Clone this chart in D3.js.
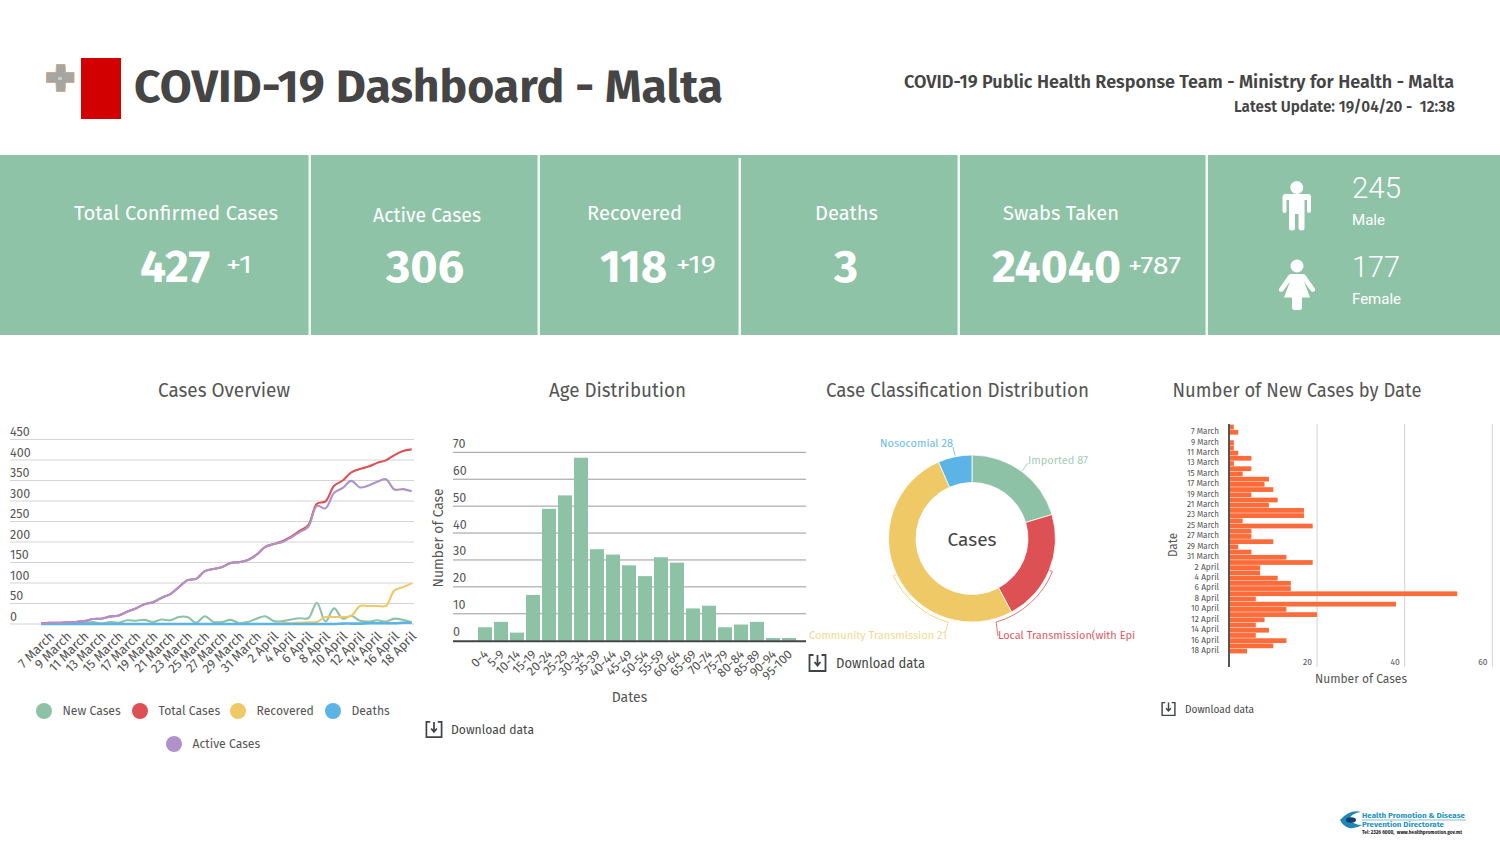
<!DOCTYPE html>
<html>
<head>
<meta charset="utf-8">
<title>COVID-19 Dashboard - Malta</title>
<script src="https://d3js.org/d3.v7.min.js"></script>
<style>
  html, body { margin: 0; padding: 0; background: #fff; overflow: hidden; }
  text { font-family: "Fira Sans", "Noto Sans", "Open Sans", sans-serif; white-space: pre; }
  .domain { display: none; }
  .tick line { display: none; }
</style>
</head>
<body>
<div id="dash"></div>
<script>
const dates = ["6 March", "7 March", "8 March", "9 March", "10 March", "11 March", "12 March", "13 March",
  "14 March", "15 March", "16 March", "17 March", "18 March", "19 March", "20 March", "21 March", "22 March",
  "23 March", "24 March", "25 March", "26 March", "27 March", "28 March", "29 March", "30 March", "31 March",
  "1 April", "2 April", "3 April", "4 April", "5 April", "6 April", "7 April", "8 April", "9 April", "10 April",
  "11 April", "12 April", "13 April", "14 April", "15 April", "16 April", "17 April", "18 April"];
const dateTicks = ["7 March", "9 March", "11 March", "13 March", "15 March", "17 March", "19 March", "21 March",
  "23 March", "25 March", "27 March", "29 March", "31 March", "2 April", "4 April", "6 April", "8 April",
  "10 April", "12 April", "14 April", "16 April", "18 April"];

const newCases = [1, 2, 0, 1, 1, 2, 5, 1, 5, 3, 9, 8, 10, 5, 11, 9, 17, 17, 3, 19, 5, 5, 10, 2, 5, 13, 19, 7, 7,
  11, 14, 14, 52, 6, 38, 13, 20, 8, 6, 9, 6, 13, 10, 4];
const totalCases = [1, 3, 3, 4, 5, 7, 12, 13, 18, 21, 30, 38, 48, 53, 64, 73, 90, 107, 110, 129, 134, 139, 149,
  151, 156, 169, 188, 195, 202, 213, 227, 241, 293, 299, 337, 350, 370, 378, 384, 393, 399, 412, 422, 426];
const recovered = [0, 0, 0, 0, 0, 0, 0, 0, 0, 0, 0, 0, 0, 0, 0, 0, 0, 0, 0, 0, 0, 0, 0, 0, 0, 0, 0, 0, 2, 2, 3, 4,
  5, 17, 17, 17, 20, 44, 44, 44, 44, 82, 90, 99];
const deaths = [0, 0, 0, 0, 0, 0, 0, 0, 0, 0, 0, 0, 0, 0, 0, 0, 0, 0, 0, 0, 0, 0, 0, 0, 0, 0, 0, 0, 0, 0, 0, 0, 0,
  0, 0, 1, 1, 1, 2, 2, 2, 2, 3, 3];
const activeCases = [1, 3, 3, 4, 5, 7, 12, 13, 18, 21, 30, 38, 48, 53, 64, 73, 90, 107, 110, 129, 134, 139, 149,
  151, 156, 169, 188, 195, 200, 211, 224, 237, 288, 282, 320, 332, 349, 333, 338, 347, 353, 328, 329, 324];
const overviewTicks = [0, 50, 100, 150, 200, 250, 300, 350, 400, 450];

const ageGroups = ["0-4", "5-9", "10-14", "15-19", "20-24", "25-29", "30-34", "35-39", "40-44", "45-49", "50-54",
  "55-59", "60-64", "65-69", "70-74", "75-79", "80-84", "85-89", "90-94", "95-100"];
const ageCounts = [5, 7, 3, 17, 49, 54, 68, 34, 32, 28, 24, 31, 29, 12, 13, 5, 6, 7, 1, 1];
const ageTicks = [0, 10, 20, 30, 40, 50, 60, 70];

const classNames = ["Imported", "Local Transmission", "Community Transmission", "Nosocomial"];
const classCounts = [87, 93, 219, 28];

const newCaseTicks = [20, 40, 60];

const GREEN = "#8dc2a7", RED = "#dd5155", YELLOW = "#efc966", BLUE = "#5cb3e6", PURPLE = "#ae92c9", ORANGE = "#fb6c3a";
const TEXT = "#555", DARK = "#444";

let svg = d3.select("#dash").append("svg")
  .attr("width", 1500)
  .attr("height", 852);

// plain text helper, width squeezes the run to the measured length in the picture
function label(x, y, str, size, opts) {
  opts = opts || {};
  let t = svg.append("text")
    .attr("x", x)
    .attr("y", y)
    .attr("font-size", size)
    .attr("font-weight", opts.weight || 400)
    .attr("fill", opts.fill || TEXT)
    .attr("text-anchor", opts.anchor || "start")
    .text(str);
  if (opts.family) t.style("font-family", opts.family);
  if (opts.width) t.attr("textLength", opts.width).attr("lengthAdjust", "spacingAndGlyphs");
  return t;
}

// ---- header
svg.append("path")
  .attr("d", "M56.500 64.500h8.500l.5 8h8.500v10h-8.500l-.5 9h-8.500l-.5 -9h-9.500v-10h9.500z")
  .attr("fill", "#a6a6a1")
  .attr("stroke", "#c8ab90")
  .attr("stroke-width", 1);
svg.append("rect").attr("x", 58).attr("y", 77).attr("width", 4).attr("height", 3).attr("fill", "#c9cbc9");
svg.append("rect").attr("x", 81).attr("y", 58).attr("width", 40).attr("height", 61).attr("fill", "#d20000");

label(134, 102, "COVID-19 Dashboard - Malta", 46, {weight: 700, fill: "#454545", width: 589});
label(904, 88, "COVID-19 Public Health Response Team - Ministry for Health - Malta", 18, {weight: 600, fill: "#454545", width: 550});
label(1234, 112, "Latest Update: 19/04/20 -  12:38", 15.5, {weight: 600, fill: "#454545", width: 221});

// ---- stats band
svg.append("rect").attr("x", 0).attr("y", 155).attr("width", 1500).attr("height", 180).attr("fill", "#8fc3a8");
[[310, 155], [539, 155], [740, 158], [959, 155], [1207, 155]].forEach(d => {
  svg.append("rect").attr("x", d[0] - 1.5).attr("y", d[1]).attr("width", 2.5).attr("height", 335 - d[1]).attr("fill", "#f4f8f5");
});

const W = {fill: "#fff"};
label(74, 220, "Total Confirmed Cases", 20, {...W, width: 204});
label(373, 222, "Active Cases", 20, {...W, width: 108});
label(587, 220, "Recovered", 20, {...W, width: 95});
label(815, 220, "Deaths", 20, {...W, width: 63});
label(1003, 220, "Swabs Taken", 20, {...W, width: 116});

const BIG = {fill: "#fff", weight: 700};
label(140, 281.5, "427", 46, {...BIG, width: 70});
label(386, 281.5, "306", 46, {...BIG, width: 78});
label(600, 281.5, "118", 46, {...BIG, width: 67});
label(834, 281.5, "3", 46, {...BIG, width: 24});
label(992, 281.5, "24040", 46, {...BIG, width: 129});
label(226, 273, "+1", 24, {...W, width: 26});
label(676, 273, "+19", 24, {...W, width: 40});
label(1128, 274, "+787", 24, {...W, width: 53});

const ROBOTO = "Roboto, sans-serif";
label(1352, 198, "245", 30, {...W, family: ROBOTO, weight: 300, width: 49});
label(1352, 225, "Male", 15, {...W, family: ROBOTO, weight: 400, width: 33});
label(1352, 277, "177", 30, {...W, family: ROBOTO, weight: 300, width: 48});
label(1352, 304, "Female", 15, {...W, family: ROBOTO, weight: 400, width: 49});

// person icons
svg.append("circle").attr("cx", 1296.75).attr("cy", 187.5).attr("r", 6.5).attr("fill", "#fff");
svg.append("path").attr("fill", "#fff")
  .attr("d", "M1286 194H1308q3 0 3 3v14q0 2 -2 2t-2 -2v-11h-2.500v28q0 2.500 -3 2.500t-3 -2.500v-14h-3.500v14q0 2.500 -3 2.500t-3 -2.500v-28h-2.500v11q0 2 -2 2t-2 -2v-14q0 -3 3.500 -3z");
svg.append("circle").attr("cx", 1297).attr("cy", 266).attr("r", 6.5).attr("fill", "#fff");
svg.append("path").attr("fill", "#fff")
  .attr("d", "M1291 274h12q2 0 3 2l8.500 12q1.500 2.500 -.5 3.500t-3.500 -1l-6.500 -9l6 16h-8v10q0 2.500 -3 2.500h-4q-3 0 -3 -2.500v-10h-8l6 -16l-6.500 9q-1.500 2 -3.500 1t-.5 -3.500l8.500 -12q1 -2 3 -2z");

// ---- chart titles
label(224, 397, "Cases Overview", 19.5, {anchor: "middle", width: 132});
label(617.5, 397, "Age Distribution", 19.5, {anchor: "middle", width: 137});
label(957.5, 397, "Case Classification Distribution", 19.5, {anchor: "middle", width: 263});
label(1297, 397, "Number of New Cases by Date", 19.5, {anchor: "middle", width: 249});

// ---- cases overview
let xOver = d3.scalePoint().domain(dates).range([41, 411.7]);
let yOver = d3.scaleLinear().domain([0, 450]).range([624, 439.5]);

const over = svg.append("g");
over.append("g").selectAll("line")
  .data(overviewTicks)
  .enter()
  .append("line")
  .attr("x1", 10)
  .attr("x2", 414)
  .attr("y1", d => yOver(d))
  .attr("y2", d => yOver(d))
  .attr("stroke", "#d4d4d4")
  .attr("stroke-width", 1);
over.append("g").selectAll("text")
  .data(overviewTicks)
  .enter()
  .append("text")
  .attr("x", 10)
  .attr("y", d => yOver(d) - 3.5)
  .attr("font-size", 12.5)
  .attr("fill", TEXT)
  .text(d => d);

const overSeries = [
  {name: "New Cases", values: newCases, color: GREEN},
  {name: "Total Cases", values: totalCases, color: RED},
  {name: "Recovered", values: recovered, color: YELLOW},
  {name: "Deaths", values: deaths, color: BLUE},
  {name: "Active Cases", values: activeCases, color: PURPLE}
];
let overLine = d3.line()
  .x((d, i) => xOver(dates[i]))
  .y(d => yOver(d))
  .curve(d3.curveCatmullRom.alpha(0.5));
over.append("g").selectAll("path")
  .data(overSeries)
  .enter()
  .append("path")
  .attr("d", d => overLine(d.values))
  .attr("fill", "none")
  .attr("stroke", d => d.color)
  .attr("stroke-width", d => d.name === "Deaths" ? 2.6 : 2.1);

function rotatedTicks(axisGroup, dx, dy, size) {
  axisGroup.selectAll("text")
    .attr("font-size", size)
    .attr("fill", TEXT)
    .attr("text-anchor", "end")
    .attr("dy", 0)
    .attr("y", 0)
    .attr("transform", `translate(${dx},${dy}) rotate(-45)`);
  axisGroup.attr("font-family", null);
}

let overAxis = over.append("g")
  .attr("transform", "translate(0,628)")
  .call(d3.axisBottom(xOver).tickValues(dateTicks).tickSize(0));
rotatedTicks(overAxis, 5, 9, 13);

// legend
const legendItems = [
  {name: "New Cases", color: GREEN, cx: 44, cy: 711},
  {name: "Total Cases", color: RED, cx: 140, cy: 711},
  {name: "Recovered", color: YELLOW, cx: 238, cy: 711},
  {name: "Deaths", color: BLUE, cx: 333, cy: 711},
  {name: "Active Cases", color: PURPLE, cx: 174, cy: 744}
];
legendItems.forEach(d => {
  svg.append("circle").attr("cx", d.cx).attr("cy", d.cy).attr("r", 8).attr("fill", d.color);
  label(d.cx + 18.5, d.cy + 4.3, d.name, 12.2);
});

// ---- age distribution
let xAge = d3.scaleBand().domain(ageGroups).range([477, 797]).paddingInner(0.125).paddingOuter(0.0625);
let yAge = d3.scaleLinear().domain([0, 70]).range([640.7, 452.3]);

const age = svg.append("g");
age.append("g").selectAll("line")
  .data(ageTicks.slice(1))
  .enter()
  .append("line")
  .attr("x1", 453)
  .attr("x2", 806)
  .attr("y1", d => yAge(d))
  .attr("y2", d => yAge(d))
  .attr("stroke", "#9a9a9a")
  .attr("stroke-width", 1);
age.append("g").selectAll("text")
  .data(ageTicks)
  .enter()
  .append("text")
  .attr("x", 453)
  .attr("y", d => yAge(d) - 4.5)
  .attr("font-size", 12.5)
  .attr("fill", TEXT)
  .text(d => d);
age.append("g").selectAll("rect")
  .data(ageCounts)
  .enter()
  .append("rect")
  .attr("x", (d, i) => xAge(ageGroups[i]))
  .attr("y", d => yAge(d))
  .attr("width", xAge.bandwidth())
  .attr("height", d => yAge(0) - yAge(d))
  .attr("fill", GREEN);
age.append("line")
  .attr("x1", 453)
  .attr("x2", 806)
  .attr("y1", yAge(0) + 0.5)
  .attr("y2", yAge(0) + 0.5)
  .attr("stroke", DARK)
  .attr("stroke-width", 2);

let ageAxis = age.append("g")
  .attr("transform", "translate(0,646)")
  .call(d3.axisBottom(xAge).tickSize(0));
rotatedTicks(ageAxis, 4, 9, 12.5);

label(629.5, 702, "Dates", 14, {anchor: "middle"});
label(0, 0, "Number of Case", 14, {anchor: "middle", width: 99})
  .attr("transform", "translate(443,538) rotate(-90)");

// ---- case classification donut
const pieCx = 972, pieCy = 538.5;
const pieColors = [GREEN, RED, YELLOW, BLUE];
let pieData = d3.pie().sort(null)(classCounts);
let arc = d3.arc().innerRadius(56).outerRadius(83.5);

const donut = svg.append("g").attr("transform", `translate(${pieCx},${pieCy})`);
donut.selectAll("path")
  .data(pieData)
  .enter()
  .append("path")
  .attr("d", arc)
  .attr("fill", (d, i) => pieColors[i])
  .attr("stroke", "#fff")
  .attr("stroke-width", 0.8);

label(pieCx, 545.5, "Cases", 18, {anchor: "middle", fill: "#444", width: 49});

// leader brackets hugging the two big slices, angles in degrees from 12 o'clock
function bracket(a0, a1, ex, ey) {
  let rad = a => (a - 90) * Math.PI / 180;
  let p = d3.path();
  p.moveTo(pieCx + 84 * Math.cos(rad(a0)), pieCy + 84 * Math.sin(rad(a0)));
  p.lineTo(pieCx + 87 * Math.cos(rad(a0)), pieCy + 87 * Math.sin(rad(a0)));
  p.arc(pieCx, pieCy, 87, rad(a0), rad(a1), a1 < a0);
  p.lineTo(ex, ey);
  return p.toString();
}
svg.append("path").attr("d", bracket(112.4, 163.9, 998, 636)).attr("fill", "none").attr("stroke", RED).attr("stroke-width", 0.8);
svg.append("path").attr("d", bracket(244.6, 195.9, 946, 631)).attr("fill", "none").attr("stroke", YELLOW).attr("stroke-width", 0.8);
svg.append("path").attr("d", "M955 455.5L953 447").attr("fill", "none").attr("stroke", BLUE).attr("stroke-width", 0.8);
svg.append("path").attr("d", "M1022 471L1028 463").attr("fill", "none").attr("stroke", GREEN).attr("stroke-width", 0.8);

label(880, 447, "Nosocomial 28", 11, {fill: "#6cbbe6", width: 73});
label(1028, 464, "Imported 87", 11, {fill: "#a3cdb8", width: 60});
label(809, 639, "Community Transmission 21", 11, {fill: "#f3d98f", width: 138});
label(998, 639, "Local Transmission(with Epi", 11, {fill: "#dd5a63", width: 137});

// ---- new cases by date
let xNew = d3.scaleLinear().domain([0, 60]).range([1229.5, 1492.3]);
let yNew = d3.scaleBand().domain(dates).range([424.2, 653.9]).padding(0.09);

const bars = svg.append("g");
bars.append("g").selectAll("line")
  .data(newCaseTicks)
  .enter()
  .append("line")
  .attr("x1", d => xNew(d))
  .attr("x2", d => xNew(d))
  .attr("y1", 424)
  .attr("y2", 667)
  .attr("stroke", "#d2d2d2")
  .attr("stroke-width", 1);
bars.append("g").selectAll("text")
  .data(newCaseTicks)
  .enter()
  .append("text")
  .attr("x", d => xNew(d) - 9.5)
  .attr("y", 665)
  .attr("font-size", 8.5)
  .attr("text-anchor", "middle")
  .attr("fill", TEXT)
  .text(d => d);
bars.append("g").selectAll("rect")
  .data(newCases)
  .enter()
  .append("rect")
  .attr("x", xNew(0))
  .attr("y", (d, i) => yNew(dates[i]))
  .attr("width", d => xNew(d) - xNew(0))
  .attr("height", yNew.bandwidth())
  .attr("fill", ORANGE);
bars.append("line")
  .attr("x1", 1229)
  .attr("x2", 1229)
  .attr("y1", 424)
  .attr("y2", 667)
  .attr("stroke", DARK)
  .attr("stroke-width", 1.8);

let newAxis = bars.append("g")
  .attr("transform", "translate(1222,-1)")
  .call(d3.axisLeft(yNew).tickValues(dateTicks).tickSize(0));
newAxis.selectAll("text")
  .attr("font-size", 9)
  .attr("fill", TEXT)
  .attr("x", -3)
  .attr("textLength", d => d.length * (d.includes("March") ? 4 : 3.5))
  .attr("lengthAdjust", "spacingAndGlyphs");

label(1361, 683, "Number of Cases", 12, {anchor: "middle", width: 92});
label(0, 0, "Date", 12, {anchor: "middle", width: 24})
  .attr("transform", "translate(1177,545) rotate(-90)");

// ---- download links
function downloadLink(x, y, s, textX, baseY, size, width) {
  const g = svg.append("g")
    .attr("transform", `translate(${x},${y}) scale(${s})`)
    .attr("fill", "none")
    .attr("stroke", "#3f4448")
    .attr("stroke-width", 1.8);
  g.append("path").attr("d", "M-4 -8H-8V8H8V-8H4");
  g.append("path").attr("d", "M0 -8V2M-3 -1L0 2.5L3 -1");
  label(textX, baseY, "Download data", size, {fill: "#444", width: width});
}
downloadLink(817.5, 663, 1, 836, 668, 14, 89);
downloadLink(434, 729.5, 0.95, 451, 734, 12.5, 83);
downloadLink(1168.5, 709, 0.8, 1185, 713, 11, 69);

// ---- logo, bottom right
svg.append("path").attr("d", "M1340 820q10 -11 21 -8q-9 1 -12 7q5 6 13 6q-6 4 -13 3q-6 -2 -9 -8z").attr("fill", "#1f86b5");
svg.append("ellipse").attr("cx", 1351).attr("cy", 820).attr("rx", 5).attr("ry", 2.8).attr("fill", "#12406e");
label(1362, 818, "Health Promotion & Disease", 7.5, {fill: "#2a93bd", weight: 700, width: 103});
svg.append("line").attr("x1", 1362).attr("x2", 1466).attr("y1", 820).attr("y2", 820).attr("stroke", "#2a93bd").attr("stroke-width", 0.6);
label(1362, 827, "Prevention Directorate", 7.5, {fill: "#2a93bd", weight: 700, width: 82});
label(1362, 833.5, "Tel: 2326 6000,  www.healthpromotion.gov.mt", 4.5, {fill: "#222", weight: 700, width: 100});
</script>
</body>
</html>
